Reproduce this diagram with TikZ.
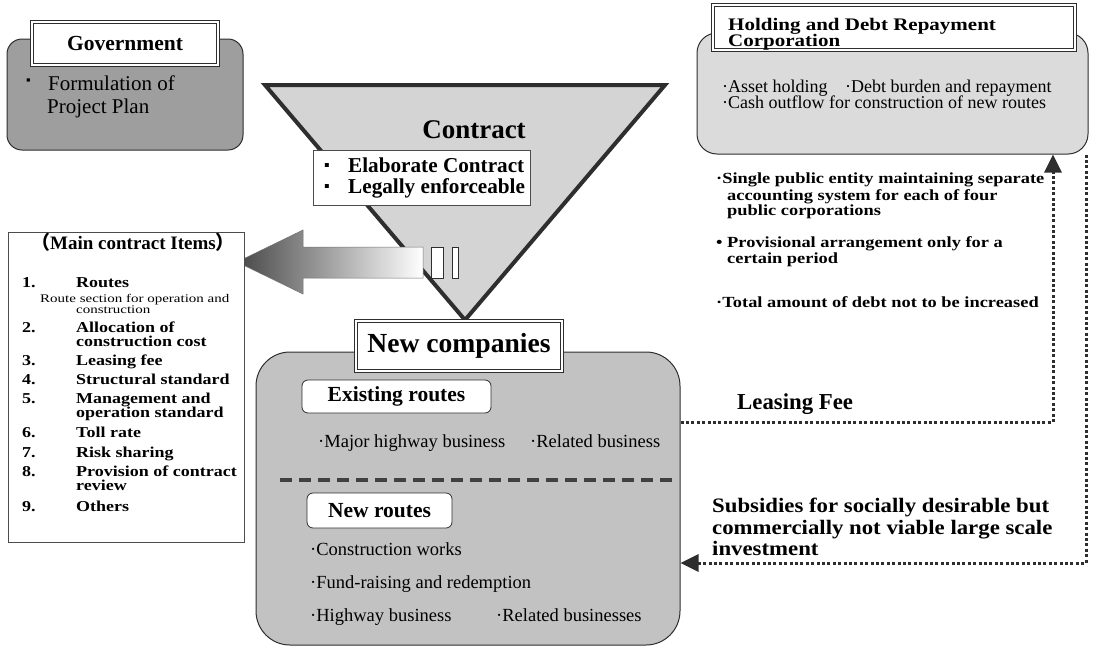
\documentclass[tikz,border=0pt]{standalone}
\usepackage{fontspec}
\setmainfont{Liberation Serif}
\newfontfamily\cjk{Noto Sans CJK JP}
\usetikzlibrary{arrows.meta,calc}
\definecolor{govfill}{gray}{0.62}
\definecolor{holdfill}{gray}{0.86}
\definecolor{ncfill}{gray}{0.76}
\definecolor{trifill}{gray}{0.83}
\definecolor{edge}{gray}{0.18}
\pgfdeclarehorizontalshading{arrowshade}{100bp}{color(0bp)=(black!85); color(25bp)=(black!72); color(75bp)=(white); color(100bp)=(white)}
\newcommand\fsz[1]{\fontsize{#1}{#1}\selectfont}
\newcommand\sq[1]{\scalebox{1}[0.84]{#1}}
\begin{document}
\begin{tikzpicture}[x=1pt,y=-1pt,
  lbl/.style={inner sep=0pt, anchor=base west},
  rbox/.style={draw=edge, line width=1pt},
  titlebox/.style={draw=edge, line width=0.8pt, double=white, double distance=1.6pt, fill=white, inner sep=0pt},
  subbox/.style={draw=edge, line width=0.8pt, fill=white, rounded corners=6pt, inner sep=0pt},
  dotline/.style={draw=edge, line width=3pt, dash pattern=on 3pt off 2.4pt},
  tip/.style={-{Triangle[length=18pt,width=17pt]}},
  itemf/.style={font=\fsz{18}\bfseries},
  notef/.style={font=\fsz{18.4}\bfseries}
]
\useasboundingbox (0,0) rectangle (1093,646);

% ---------------- Government
\node[rbox, fill=govfill, rounded corners=15pt, minimum width=236pt, minimum height=111pt] (gov) at (125,94.5) {};
\node[titlebox, minimum width=186pt, minimum height=43pt] (govt) at (125,43.5) {\fsz{21.5}\bfseries Government};
\node[lbl] (govb) at (26,84) {\fsz{13}▪};
\node[lbl] (govl1) at (48,90) {\fsz{21}Formulation of};
\node[lbl] (govl2) at (47,113) {\fsz{21}Project Plan};

% ---------------- Contract triangle
\coordinate (tl) at (265,85);
\coordinate (tr) at (665,85);
\coordinate (apex) at (465,320);
\draw[draw=edge, line width=4pt, fill=trifill, line join=miter] (tl) -- (tr) -- (apex) -- cycle;
\node[inner sep=0pt, anchor=base] (contract) at (474,138) {\fsz{27}\bfseries Contract};
\node[draw=black!70, fill=white, line width=0.6pt, minimum width=217pt, minimum height=55pt] (cbox) at (421.5,177.5) {};
\node[lbl] (cb1) at (324,170) {\fsz{16}▪};
\node[lbl] (cl1) at (348,172) {\fsz{21.2}\bfseries Elaborate Contract};
\node[lbl] (cb2) at (324,191) {\fsz{16}▪};
\node[lbl] (cl2) at (348,193) {\fsz{21.2}\bfseries Legally enforceable};

% ---------------- Block arrow
\coordinate (atip) at (237,262);
\shadedraw[shading=arrowshade, draw=black!55, line width=0.5pt]
  (atip) -- (303,230) -- (303,247) -- (423,247) -- (423,278) -- (303,278) -- (303,294) -- cycle;
\draw[draw=edge, fill=white, line width=0.6pt] (431,247) rectangle (443,278);
\draw[draw=edge, fill=white, line width=0.6pt] (452,247) rectangle (458,278);

% ---------------- Main contract items
\node[draw=black!70, line width=0.6pt, fill=white, minimum width=236pt, minimum height=310pt] (items) at (126,387) {};
\node[inner sep=0pt, anchor=base] (itt) at (133,249) {\fsz{19}\bfseries{\cjk （}Main contract Items{\cjk ）}};
\node[lbl, itemf] (n1) at (22,287) {\sq{1.}};
\node[lbl, itemf] (t1) at (76,287) {\sq{Routes}};
\node[lbl] (t1a) at (40,302) {\scalebox{1}[0.78]{\fsz{15}Route section for operation and}};
\node[lbl] (t1b) at (76,313) {\scalebox{1}[0.78]{\fsz{15}construction}};
\node[lbl, itemf] (n2) at (22,332) {\sq{2.}};
\node[lbl, itemf] (t2) at (76,332) {\sq{Allocation of}};
\node[lbl, itemf] (t2b) at (76,346) {\sq{construction cost}};
\node[lbl, itemf] (n3) at (22,365) {\sq{3.}};
\node[lbl, itemf] (t3) at (76,365) {\sq{Leasing fee}};
\node[lbl, itemf] (n4) at (22,384) {\sq{4.}};
\node[lbl, itemf] (t4) at (76,384) {\sq{Structural standard}};
\node[lbl, itemf] (n5) at (22,403) {\sq{5.}};
\node[lbl, itemf] (t5) at (76,403) {\sq{Management and}};
\node[lbl, itemf] (t5b) at (76,417) {\sq{operation standard}};
\node[lbl, itemf] (n6) at (22,437) {\sq{6.}};
\node[lbl, itemf] (t6) at (76,437) {\sq{Toll rate}};
\node[lbl, itemf] (n7) at (22,457) {\sq{7.}};
\node[lbl, itemf] (t7) at (76,457) {\sq{Risk sharing}};
\node[lbl, itemf] (n8) at (22,476) {\sq{8.}};
\node[lbl, itemf] (t8) at (76,476) {\sq{Provision of contract}};
\node[lbl, itemf] (t8b) at (76,490) {\sq{review}};
\node[lbl, itemf] (n9) at (22,511) {\sq{9.}};
\node[lbl, itemf] (t9) at (76,511) {\sq{Others}};

% ---------------- Holding and Debt Repayment Corporation
\node[rbox, fill=holdfill, rounded corners=20pt, minimum width=391pt, minimum height=121pt] (hold) at (892.5,93.5) {};
\node[titlebox, minimum width=362pt, minimum height=45pt] (holdt) at (894,27.5) {};
\node[lbl] (ht1) at (728,30) {\scalebox{1}[0.84]{\fsz{21}\bfseries Holding and Debt Repayment}};
\node[lbl] (ht2) at (728,46) {\scalebox{1}[0.84]{\fsz{21}\bfseries Corporation}};
\node[lbl] (hb1) at (722,92) {\fsz{18}·Asset holding};
\node[lbl] (hb2) at (845,92) {\fsz{18}·Debt burden and repayment};
\node[lbl] (hb3) at (722,108) {\fsz{18}·Cash outflow for construction of new routes};

% right notes
\node[lbl, notef] (r1) at (716,183) {\sq{·Single public entity maintaining separate}};
\node[lbl, notef] (r1b) at (727,200) {\sq{accounting system for each of four}};
\node[lbl, notef] (r1c) at (727,215) {\sq{public corporations}};
\node[lbl, notef] (r2) at (716,247) {\sq{• Provisional arrangement only for a}};
\node[lbl, notef] (r2b) at (727,263) {\sq{certain period}};
\node[lbl, notef] (r3) at (716,307) {\sq{·Total amount of debt not to be increased}};

% ---------------- New companies
\node[rbox, fill=ncfill, rounded corners=34pt, minimum width=424pt, minimum height=293pt] (newco) at (468,498.5) {};
\node[titlebox, minimum width=206pt, minimum height=50pt] (newcot) at (459,346) {\fsz{27.6}\bfseries New companies};
\node[subbox, minimum width=189pt, minimum height=33pt] (exist) at (396.5,396.5) {\fsz{21.5}\bfseries Existing routes};
\node[lbl] (e1) at (318,447) {\fsz{18.5}·Major highway business};
\node[lbl] (e2) at (530,447) {\fsz{18.5}·Related business};
\coordinate (ds) at (280,480);
\coordinate (de) at (672,480);
\draw[draw=black!75, line width=4pt, dash pattern=on 12pt off 7pt] (ds) -- (de);
\node[subbox, minimum width=145pt, minimum height=35pt] (newr) at (379.5,510.5) {\fsz{21.5}\bfseries New routes};
\node[lbl] (nr1) at (310,555) {\fsz{18.5}·Construction works};
\node[lbl] (nr2) at (310,588) {\fsz{18.5}·Fund-raising and redemption};
\node[lbl] (nr3) at (310,621) {\fsz{18.5}·Highway business};
\node[lbl] (nr4) at (496,621) {\fsz{18.5}·Related businesses};

% ---------------- Dotted flows
\coordinate (lfs) at (newco.east |- 0,422);
\coordinate (lfc) at (1053,422);
\draw[dotline, tip] (lfs) -- (lfc) -- (lfc |- hold.south);
\node[lbl] (lf) at (737,409) {\fsz{22.8}\bfseries Leasing Fee};

\coordinate (sbs) at (hold.south -| 1086,0);
\coordinate (sbc) at (1086,563);
\coordinate (sbe) at (newco.east |- 0,563);
\draw[dotline, tip] (sbs) -- (sbc) -- (sbe);
\node[lbl] (sb1) at (712,512) {\scalebox{1}[0.9]{\fsz{22.8}\bfseries Subsidies for socially desirable but}};
\node[lbl] (sb2) at (712,534) {\scalebox{1}[0.9]{\fsz{22.8}\bfseries commercially not viable large scale}};
\node[lbl] (sb3) at (712,555) {\scalebox{1}[0.9]{\fsz{22.8}\bfseries investment}};
\end{tikzpicture}
\end{document}
